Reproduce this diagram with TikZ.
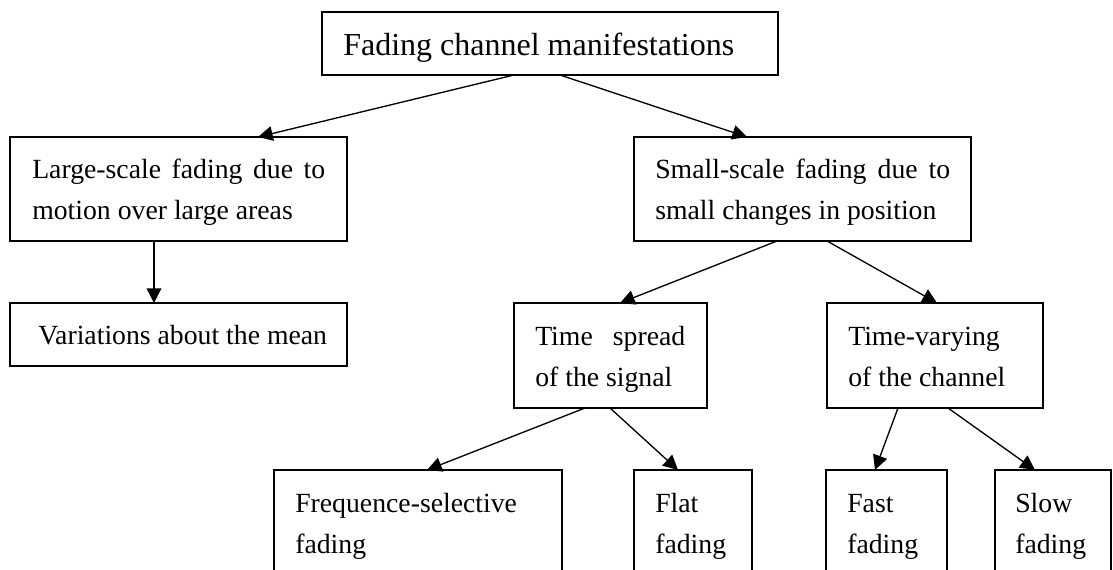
\documentclass[tikz,border=0pt]{standalone}
\usepackage{fontspec}
\setmainfont{Liberation Serif}
\usetikzlibrary{arrows.meta,calc}
\newcommand\twolines[2]{\vtop{\baselineskip=30.75pt\hbox{#1}\hbox{#2}}}
\begin{document}
\begin{tikzpicture}[x=0.75pt,y=-0.75pt,
  box/.style={draw,line width=1pt,inner sep=0pt,outer sep=0pt,anchor=north west},
  txt/.style={anchor=base west,inner sep=0pt,font=\fontsize{20.8pt}{30.75pt}\selectfont},
  arr/.style={line width=1pt,-{Triangle[length=11pt,width=11pt]}}]
\useasboundingbox (0,0) rectangle (1113,570);
\clip (0,0) rectangle (1113,570);
% boxes
\node[box,minimum width=342pt,minimum height=47.25pt] (top) at (322,12) {};
\node[box,minimum width=252.75pt,minimum height=78pt] (large) at (10,137) {};
\node[box,minimum width=252.75pt,minimum height=78pt] (small) at (634,137) {};
\node[box,minimum width=252.75pt,minimum height=47.25pt] (var) at (10,303) {};
\node[box,minimum width=144.75pt,minimum height=78.75pt] (tsp) at (514,303) {};
\node[box,minimum width=162pt,minimum height=78.75pt] (tvar) at (827,303) {};
\node[box,minimum width=216pt,minimum height=90pt] (freq) at (274,470) {};
\node[box,minimum width=88.5pt,minimum height=90pt] (flat) at (634,470) {};
\node[box,minimum width=90.75pt,minimum height=90pt] (fast) at (826,470) {};
\node[box,minimum width=87pt,minimum height=90pt] (slow) at (995,470) {};
% texts
\node[txt,font=\fontsize{24pt}{30pt}\selectfont] (topT) at (343,56) {Fading channel manifestations};
\node[txt] (largeT) at (32,179) {\twolines{\makebox[219.75pt][s]{Large-scale fading due to}}{motion over large areas}};
\node[txt] (smallT) at (655,179) {\twolines{\makebox[221.25pt][s]{Small-scale fading due to}}{small changes in position}};
\node[txt] (varT) at (38,344) {Variations about the mean};
\node[txt] (tspT) at (535,345) {\twolines{\makebox[112.5pt][s]{Time spread}}{of the signal}};
\node[txt] (tvarT) at (848,345) {\twolines{Time-varying}{of the channel}};
\node[txt] (freqT) at (295,512) {\twolines{Frequence-selective}{fading}};
\node[txt] (flatT) at (655,512) {\twolines{Flat}{fading}};
\node[txt] (fastT) at (847,512) {\twolines{Fast}{fading}};
\node[txt] (slowT) at (1015,512) {\twolines{Slow}{fading}};
% connectors
\draw[arr] ($(top.south)+(-36,0)$) -- ($(large.north)+(79.5,0)$);
\draw[arr] ($(top.south)+(10,0)$) -- ($(small.north)+(-55.5,0)$);
\draw[arr] ($(large.south)+(-24.5,0)$) -- ($(var.north)+(-24.5,0)$);
\draw[arr] ($(small.south)+(-25.5,0)$) -- ($(tsp.north)+(9.5,0)$);
\draw[arr] ($(small.south)+(24.5,0)$) -- ($(tvar.north)+(2,0)$);
\draw[arr] ($(tsp.south)+(-25.5,0)$) -- ($(freq.north)+(9,0)$);
\draw[arr] ($(tsp.south)+(-0.5,0)$) -- ($(flat.north)+(-15,0)$);
\draw[arr] ($(tvar.south)+(-37,0)$) -- ($(fast.north)+(-11.5,0)$);
\draw[arr] ($(tvar.south)+(13,0)$) -- ($(slow.north)+(-18,0)$);
\end{tikzpicture}
\end{document}
